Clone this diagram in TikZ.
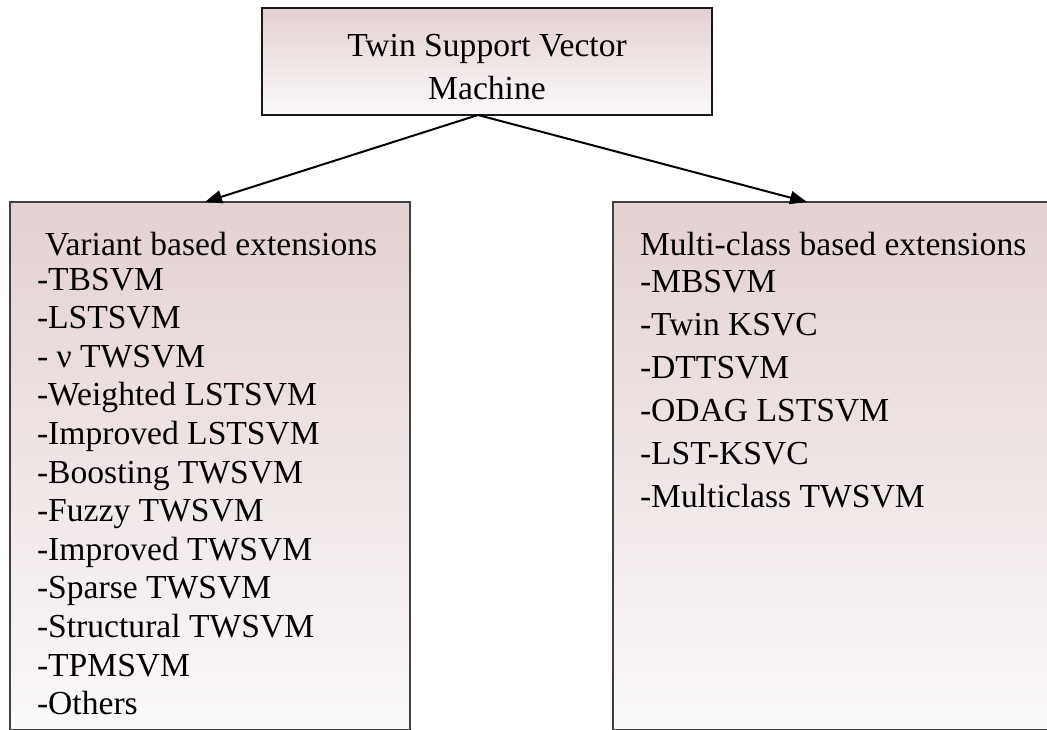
\documentclass[tikz,border=0pt]{standalone}
\usepackage{fontspec}
\setmainfont{Liberation Serif}
\usetikzlibrary{arrows.meta}
\definecolor{pinktop}{RGB}{228,209,210}
\definecolor{pinkbot}{RGB}{251,249,249}
\tikzset{
  topbox/.style={draw=black!90, line width=2.2pt, top color=pinktop, bottom color=pinkbot, inner sep=0pt, outer sep=0pt, anchor=north west},
  listbox/.style={draw=black!75, line width=1.6pt, top color=pinktop, bottom color=pinkbot, inner sep=0pt, outer sep=0pt, anchor=north west},
  txt/.style={inner sep=0pt, outer sep=0pt, font=\fontsize{33.6}{38.7}\selectfont, text=black},
  link/.style={draw=black, line width=2pt, -{Triangle[length=17pt,width=13pt]}}
}
\begin{document}
\begin{tikzpicture}[x=1pt,y=-1pt]
\useasboundingbox (0,0) rectangle (1047,729);
% boxes
\node[topbox, minimum width=450pt, minimum height=107pt] (top) at (262,8) {};
\node[listbox, minimum width=400pt, minimum height=528pt] (left) at (10,202) {};
\node[listbox, minimum width=440pt, minimum height=528pt] (right) at (613,202) {};
% top text
\node[txt, anchor=base] (t1) at (487,56) {Twin Support Vector};
\node[txt, anchor=base] (t2) at (487,99) {Machine};
% left list
\node[txt, anchor=base west] (lh) at (45,255) {Variant based extensions};
\foreach \t [count=\i] in {-TBSVM,-LSTSVM,- ν TWSVM,-Weighted LSTSVM,-Improved LSTSVM,-Boosting TWSVM,-Fuzzy TWSVM,-Improved TWSVM,-Sparse TWSVM,-Structural TWSVM,-TPMSVM,-Others}
  \node[txt, anchor=base west] (l\i) at (37,{290+38.6*(\i-1)}) {\t};
% right list
\node[txt, anchor=base west] (rh) at (640,255) {Multi-class based extensions};
\node[txt, anchor=base west] (r1) at (640,292) {-MBSVM};
\foreach \t [count=\i from 2] in {-Twin KSVC,-DTTSVM,-ODAG LSTSVM,-LST-KSVC,-Multiclass TWSVM}
  \node[txt, anchor=base west] (r\i) at (640,{292+43*(\i-1)}) {\t};
% connectors
\coordinate (src) at (478,115);
\coordinate (ltip) at (205,202);
\coordinate (rtip) at (807,202);
\draw[link] (src) -- (ltip);
\draw[link] (src) -- (rtip);
\end{tikzpicture}
\end{document}
